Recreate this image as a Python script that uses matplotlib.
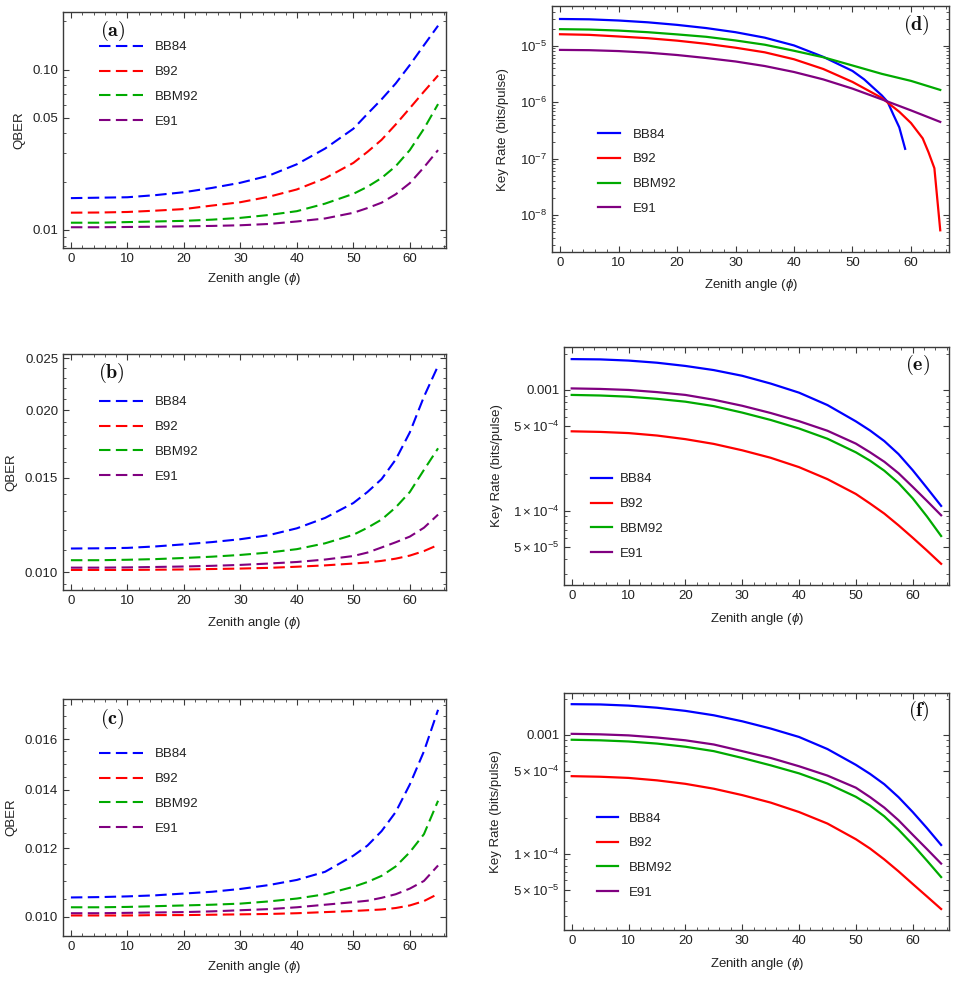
import matplotlib
matplotlib.use("Agg")
import matplotlib.pyplot as plt
from matplotlib.ticker import FixedLocator, NullFormatter, FixedFormatter

plt.rcParams['font.family'] = ['Liberation Sans', 'DejaVu Sans']
plt.rcParams['mathtext.fontset'] = 'custom'
plt.rcParams['mathtext.rm'] = 'Liberation Sans'
plt.rcParams['mathtext.it'] = 'Liberation Sans:italic'
plt.rcParams['mathtext.bf'] = 'Liberation Sans:bold'

# ---------------- data ----------------
protocols = ["BB84", "B92", "BBM92", "E91"]
colors = ["#0000ff", "#ff0000", "#00aa00", "#800080"]

angles = [0, 5, 10, 15, 20, 25, 30, 35, 40, 45, 50, 52.5, 55, 57.5, 60, 62.5, 65]

# (a) QBER
qber_a_bb84 = [0.0158, 0.0159, 0.0160, 0.0165, 0.0172, 0.0183, 0.0197, 0.0218, 0.0257, 0.0322, 0.0428, 0.0530, 0.0653, 0.082, 0.1069, 0.142, 0.188]
qber_a_b92 = [0.01282, 0.01285, 0.01295, 0.0132, 0.0135, 0.0142, 0.0149, 0.0161, 0.0179, 0.0210, 0.0262, 0.0307, 0.0365, 0.0455, 0.0575, 0.073, 0.092]
qber_a_bbm92 = [0.0111, 0.0111, 0.0112, 0.0113, 0.0114, 0.0116, 0.0119, 0.0124, 0.0131, 0.0146, 0.0168, 0.0186, 0.0211, 0.0250, 0.0315, 0.0428, 0.061]
qber_a_e91 = [0.0104, 0.0104, 0.01044, 0.01048, 0.01054, 0.0106, 0.0107, 0.0109, 0.0113, 0.0118, 0.0128, 0.0137, 0.0148, 0.0167, 0.0196, 0.0246, 0.0315]

# (b) QBER
qber_b_bb84 = [0.01107, 0.01108, 0.0111, 0.01117, 0.01127, 0.01138, 0.01152, 0.01172, 0.01207, 0.01262, 0.01345, 0.0141, 0.0149, 0.0162, 0.0182, 0.0212, 0.0242]
qber_b_b92 = [0.0101, 0.0101, 0.0101, 0.01011, 0.01012, 0.01014, 0.01016, 0.01019, 0.01024, 0.01030, 0.01038, 0.01043, 0.0105, 0.0106, 0.01074, 0.01095, 0.01124]
qber_b_bbm92 = [0.01053, 0.01053, 0.01055, 0.01058, 0.01063, 0.01069, 0.01077, 0.01088, 0.01104, 0.01132, 0.01174, 0.0121, 0.01253, 0.0132, 0.0141, 0.0155, 0.0170]
qber_b_e91 = [0.0102, 0.0102, 0.01021, 0.01023, 0.01025, 0.01028, 0.01032, 0.01038, 0.01045, 0.01056, 0.01072, 0.01088, 0.01112, 0.01137, 0.01165, 0.0121, 0.0128]

# (c) QBER
qber_c_bb84 = [0.01053, 0.01054, 0.01056, 0.01059, 0.01064, 0.01069, 0.01077, 0.01088, 0.01103, 0.01127, 0.01176, 0.01208, 0.01255, 0.0132, 0.0142, 0.0155, 0.0173]
qber_c_b92 = [0.01004, 0.01004, 0.01004, 0.01005, 0.01005, 0.01006, 0.01007, 0.01008, 0.0101, 0.01013, 0.01016, 0.01018, 0.0102, 0.01024, 0.01031, 0.01043, 0.01063]
qber_c_bbm92 = [0.01026, 0.01026, 0.01027, 0.01029, 0.01031, 0.01033, 0.01036, 0.01042, 0.0105, 0.01062, 0.01083, 0.01097, 0.01115, 0.01143, 0.01187, 0.01245, 0.0136]
qber_c_e91 = [0.0101, 0.0101, 0.01011, 0.01012, 0.01013, 0.01015, 0.01018, 0.01021, 0.01026, 0.01033, 0.0104, 0.01044, 0.01052, 0.01062, 0.01078, 0.011, 0.01146]

# (d) key rate
angles_d = [0, 5, 10, 15, 20, 25, 30, 35, 40, 45, 50, 55, 60, 65]
angles_d_bb84 = [0, 5, 10, 15, 20, 25, 30, 35, 40, 45, 50, 52, 54, 55, 56, 57, 58, 59]
rate_d_bb84 = [3.0e-5, 2.96e-5, 2.82e-5, 2.62e-5, 2.36e-5, 2.07e-5, 1.75e-5, 1.40e-5, 1.02e-5, 6.4e-6,
               3.6e-6, 2.55e-6, 1.65e-6, 1.33e-6, 1.02e-6, 6.0e-7, 3.6e-7, 1.5e-7]
angles_d_b92 = [0, 5, 10, 15, 20, 25, 30, 35, 40, 45, 50, 55, 58, 60, 62, 63, 64, 65]
rate_d_b92 = [1.61e-5, 1.57e-5, 1.47e-5, 1.37e-5, 1.24e-5, 1.09e-5, 9.3e-6, 7.7e-6, 5.8e-6, 3.9e-6,
              2.3e-6, 1.2e-6, 6.8e-7, 4.3e-7, 2.3e-7, 1.3e-7, 6.8e-8, 5.4e-9]
rate_d_bbm92 = [1.98e-5, 1.95e-5, 1.87e-5, 1.75e-5, 1.60e-5, 1.45e-5, 1.25e-5, 1.05e-5, 8.2e-6, 6.3e-6,
                4.5e-6, 3.2e-6, 2.4e-6, 1.66e-6]
rate_d_e91 = [8.5e-6, 8.4e-6, 8.1e-6, 7.6e-6, 6.9e-6, 6.1e-6, 5.3e-6, 4.4e-6, 3.45e-6, 2.55e-6,
              1.75e-6, 1.13e-6, 7.2e-7, 4.5e-7]

# (e) key rate
rate_e_bb84 = [1.80e-3, 1.79e-3, 1.75e-3, 1.68e-3, 1.58e-3, 1.46e-3, 1.31e-3, 1.13e-3, 9.5e-4, 7.5e-4, 5.5e-4, 4.62e-4, 3.78e-4, 2.95e-4, 2.17e-4, 1.55e-4, 1.10e-4]
rate_e_b92 = [4.55e-4, 4.5e-4, 4.4e-4, 4.2e-4, 3.92e-4, 3.58e-4, 3.17e-4, 2.75e-4, 2.3e-4, 1.83e-4, 1.38e-4, 1.15e-4, 9.5e-5, 7.6e-5, 6.0e-5, 4.7e-5, 3.65e-5]
rate_e_bbm92 = [9.1e-4, 9.0e-4, 8.8e-4, 8.45e-4, 8.0e-4, 7.35e-4, 6.5e-4, 5.65e-4, 4.8e-4, 3.95e-4, 3.05e-4, 2.6e-4, 2.15e-4, 1.7e-4, 1.27e-4, 9.0e-5, 6.2e-5]
rate_e_e91 = [1.03e-3, 1.02e-3, 1.0e-3, 9.6e-4, 9.1e-4, 8.3e-4, 7.4e-4, 6.45e-4, 5.52e-4, 4.6e-4, 3.6e-4, 3.05e-4, 2.55e-4, 2.05e-4, 1.58e-4, 1.21e-4, 9.2e-5]

# (f) key rate
rate_f_bb84 = [1.81e-3, 1.80e-3, 1.76e-3, 1.69e-3, 1.59e-3, 1.46e-3, 1.30e-3, 1.13e-3, 9.6e-4, 7.6e-4, 5.6e-4, 4.7e-4, 3.85e-4, 3.0e-4, 2.25e-4, 1.65e-4, 1.19e-4]
rate_f_b92 = [4.5e-4, 4.45e-4, 4.35e-4, 4.15e-4, 3.88e-4, 3.53e-4, 3.12e-4, 2.7e-4, 2.25e-4, 1.8e-4, 1.33e-4, 1.11e-4, 9.0e-5, 7.15e-5, 5.6e-5, 4.4e-5, 3.45e-5]
rate_f_bbm92 = [9.1e-4, 9.0e-4, 8.8e-4, 8.45e-4, 7.95e-4, 7.3e-4, 6.4e-4, 5.55e-4, 4.75e-4, 3.9e-4, 3.02e-4, 2.55e-4, 2.07e-4, 1.6e-4, 1.2e-4, 8.8e-5, 6.4e-5]
rate_f_e91 = [1.02e-3, 1.01e-3, 9.9e-4, 9.5e-4, 9.0e-4, 8.3e-4, 7.3e-4, 6.4e-4, 5.45e-4, 4.55e-4, 3.6e-4, 3.0e-4, 2.45e-4, 1.92e-4, 1.45e-4, 1.1e-4, 8.3e-5]

# ---------------- figure ----------------
FRAME = "#3a3a3a"
TXT = "#222222"
FS = 9.5
LSP = 0.95

fig = plt.figure(figsize=(9.56, 9.81), dpi=100)

def style_axes(ax, xlim, ylim):
    ax.set_yscale('log')
    ax.set_xlim(*xlim)
    ax.set_ylim(*ylim)
    for s in ax.spines.values():
        s.set_color(FRAME)
        s.set_linewidth(1.0)
    ax.xaxis.set_major_locator(FixedLocator([0, 10, 20, 30, 40, 50, 60]))
    ax.xaxis.set_minor_locator(FixedLocator([v for v in range(0, 67, 2) if v % 10 != 0]))
    ax.tick_params(which='both', direction='in', top=True, right=True, colors=FRAME,
                   labelcolor=TXT, labelsize=FS, pad=3.5)
    ax.tick_params(which='major', length=4.2, width=0.8)
    ax.tick_params(which='minor', length=2.4, width=0.6)

def set_yticks(ax, major, labels, minor):
    ax.yaxis.set_major_locator(FixedLocator(major))
    ax.yaxis.set_major_formatter(FixedFormatter(labels))
    ax.yaxis.set_minor_locator(FixedLocator(minor))
    ax.yaxis.set_minor_formatter(NullFormatter())

def labels(ax, ylabel, ylab_x, xlab_y, tag, tag_xy):
    ax.set_xlabel(r'Zenith angle ($\phi$)', fontsize=FS, color=TXT, va='center')
    ax.xaxis.set_label_coords(0.5, xlab_y)
    ax.set_ylabel(ylabel, fontsize=FS, color=TXT, va='center')
    ax.yaxis.set_label_coords(ylab_x, 0.5)
    ax.text(tag_xy[0], tag_xy[1], r'$\mathbf{(' + tag + r')}$', transform=ax.transAxes,
            ha='center', va='center', fontsize=14.5, math_fontfamily='cm', color='#111111')

DASH = (0, (5.5, 2.6))

def qber_panel(rect, series, ylim, yt, tag, ylab_x, xlab_y, tag_xy, leg_anchor):
    ax = fig.add_axes(rect)
    for name, col, vals in zip(protocols, colors, series):
        ax.plot(angles, vals, color=col, lw=1.5, linestyle=DASH, label=name)
    style_axes(ax, (-1.4, 66.4), ylim)
    set_yticks(ax, *yt)
    labels(ax, 'QBER', ylab_x, xlab_y, tag, tag_xy)
    ax.legend(loc='upper left', bbox_to_anchor=leg_anchor, frameon=False, fontsize=FS,
              handlelength=3.3, handletextpad=0.9, labelspacing=LSP, borderpad=0,
              borderaxespad=0, labelcolor=TXT)
    return ax

def rate_panel(rect, xs, series, ylim, yt, tag, ylab_x, xlab_y, tag_xy, leg_anchor, xlim,
               hl, htp):
    ax = fig.add_axes(rect)
    for name, col, x, vals in zip(protocols, colors, xs, series):
        ax.plot(x, vals, color=col, lw=1.6, label=name)
    style_axes(ax, xlim, ylim)
    set_yticks(ax, *yt)
    labels(ax, 'Key Rate (bits/pulse)', ylab_x, xlab_y, tag, tag_xy)
    ax.legend(loc='upper left', bbox_to_anchor=leg_anchor, frameon=False, fontsize=FS,
              handlelength=hl, handletextpad=htp, labelspacing=LSP, borderpad=0,
              borderaxespad=0, labelcolor=TXT)
    return ax

# y tick definitions
minor_a = [0.008, 0.009] + [i / 100 for i in range(2, 10) if i != 5] + [0.2]
yt_a = ([0.01, 0.05, 0.10], ["0.01", "0.05", "0.10"], minor_a)
minor_b = [i / 1000 for i in range(9, 26) if i not in (10, 15, 20, 25)] + [0.0095]
yt_b = ([0.010, 0.015, 0.020, 0.025], ["0.010", "0.015", "0.020", "0.025"], minor_b)
minor_c = [0.0095 + 0.0005 * i for i in range(0, 18) if round((0.0095 + 0.0005 * i) * 1e4) % 20 != 0]
yt_c = ([0.010, 0.012, 0.014, 0.016], ["0.010", "0.012", "0.014", "0.016"], minor_c)

minor_d = [m * 10.0 ** e for e in range(-9, -4) for m in range(2, 10)]
yt_d = ([1e-8, 1e-7, 1e-6, 1e-5],
        [r'$10^{-8}$', r'$10^{-7}$', r'$10^{-6}$', r'$10^{-5}$'], minor_d)
minor_ef = [m * 10.0 ** e for e in range(-5, -2) for m in range(2, 10) if not (m == 5 and e in (-5, -4))]
yt_ef = ([5e-5, 1e-4, 5e-4, 1e-3],
         [r'$5\times10^{-5}$', r'$1\times10^{-4}$', r'$5\times10^{-4}$', '0.001'], minor_ef)

qber_panel([0.0659, 0.7472, 0.4006, 0.2406],
           [qber_a_bb84, qber_a_b92, qber_a_bbm92, qber_a_e91],
           (0.00772, 0.229), yt_a, 'a', -0.115, -0.131, (0.13, 0.921), (0.094, 0.876))
qber_panel([0.0659, 0.3986, 0.4006, 0.2403],
           [qber_b_bb84, qber_b_b92, qber_b_bbm92, qber_b_e91],
           (0.00927, 0.02543), yt_b, 'b', -0.134, -0.139, (0.127, 0.919), (0.094, 0.822))
qber_panel([0.0659, 0.0459, 0.4006, 0.2413],
           [qber_c_bb84, qber_c_b92, qber_c_bbm92, qber_c_e91],
           (0.00951, 0.01779), yt_c, 'c', -0.134, -0.132, (0.13, 0.915), (0.094, 0.793))

rate_panel([0.5771, 0.7428, 0.4159, 0.2511],
           [angles_d_bb84, angles_d_b92, angles_d, angles_d],
           [rate_d_bb84, rate_d_b92, rate_d_bbm92, rate_d_e91],
           (2.2e-9, 5.1e-5), yt_d, 'd', -0.123, -0.133, (0.918, 0.923), (0.116, 0.503),
           (-1.42, 66.55), 1.65, 1.0)
rate_panel([0.5903, 0.4037, 0.4027, 0.2429],
           [angles] * 4,
           [rate_e_bb84, rate_e_b92, rate_e_bbm92, rate_e_e91],
           (2.44e-5, 0.00228), yt_ef, 'e', -0.176, -0.144, (0.918, 0.923), (0.069, 0.469),
           (-1.3, 66.44), 1.6, 0.6)
rate_panel([0.5903, 0.0520, 0.4027, 0.2419],
           [angles] * 4,
           [rate_f_bb84, rate_f_b92, rate_f_bbm92, rate_f_e91],
           (2.3e-5, 0.00226), yt_ef, 'f', -0.177, -0.145, (0.922, 0.924), (0.085, 0.496),
           (-1.3, 66.44), 1.6, 0.8)

fig.savefig("out.png", dpi=100)
